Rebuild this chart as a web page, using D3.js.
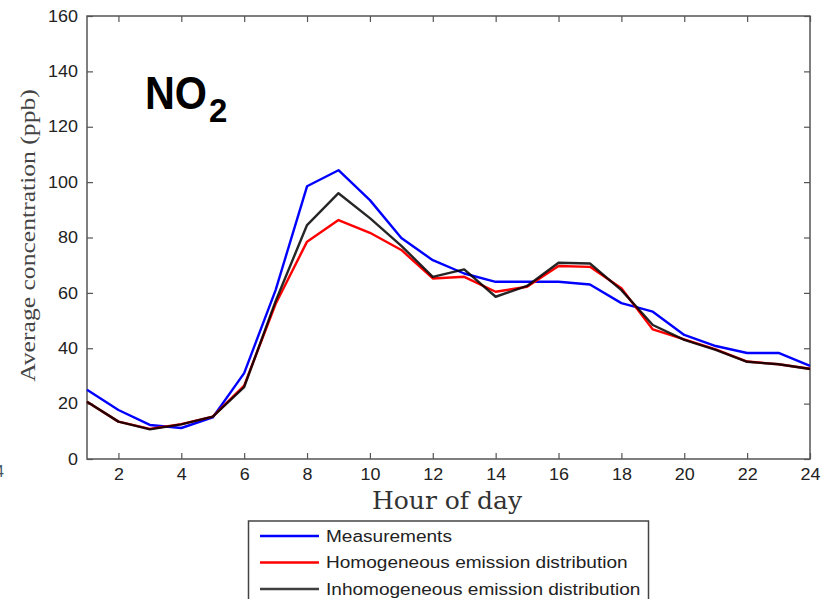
<!DOCTYPE html>
<html>
<head>
<meta charset="utf-8">
<script src="https://cdn.jsdelivr.net/npm/d3@7"></script>
<style>
  body { margin: 0; background: #fff; }
  svg { display: block; }
</style>
</head>
<body>
<div id="chart"></div>
<script>
//////////////////////////////////////////////////////////////
////////////////////// Data /////////////////////////////////
//////////////////////////////////////////////////////////////

var hours = d3.range(1, 25);
var measurements = [25, 17.7, 12.3, 11.2, 15, 31, 61, 98.5, 104.3, 93.5, 79.8, 71.8, 67, 64, 64, 64, 63, 56.3, 53.2, 44.8, 40.8, 38.3, 38.3, 33.6];
var homogeneous = [20.7, 13.5, 10.9, 12.6, 15.3, 26.5, 56, 78.5, 86.3, 81.7, 75.5, 65.2, 65.8, 60.4, 62.2, 69.7, 69.4, 61.7, 46.8, 43.2, 39.6, 35.2, 34.2, 32.6];
var inhomogeneous = [20.7, 13.5, 10.7, 12.5, 15.3, 26, 57, 84.5, 96, 87, 77, 65.8, 68.5, 58.6, 62.5, 70.9, 70.6, 61, 48.4, 43, 39.4, 35.1, 34.2, 32.5];
var seriesNames = ["Measurements", "Homogeneous emission distribution", "Inhomogeneous emission distribution"];
var seriesColors = ["#0000ff", "#ff0000", "#000000"];
var xTicks = d3.range(2, 25, 2);
var yTicks = d3.range(0, 161, 20);

//////////////////////////////////////////////////////////////
////////////////////// Setup ////////////////////////////////
//////////////////////////////////////////////////////////////

var width = 831, height = 599;
var plot = {left: 87, top: 16, right: 810, bottom: 459};

var svg = d3.select("#chart").append("svg")
	.attr("width", width)
	.attr("height", height);

var x = d3.scaleLinear().domain([1, 24]).range([plot.left, plot.right]);
var y = d3.scaleLinear().domain([0, 160]).range([plot.bottom, plot.top]);

var tickFont = "'Liberation Sans', Arial, Helvetica, sans-serif",
	serifFont = "'Liberation Serif', 'DejaVu Serif', serif";

//The original Helvetica texts are a bit wider than Liberation Sans, stretch them
function stretch(sel, factor) {
	sel.each(function() {
		var w = this.getComputedTextLength();
		d3.select(this)
			.attr("textLength", w * factor)
			.attr("lengthAdjust", "spacingAndGlyphs");
	});
}

//Axes - ticks point inward, mirrored on the top and right
var axisStyle = function(g) {
	g.select(".domain").remove();
	g.selectAll(".tick line").attr("stroke", "#555").attr("stroke-width", 1.2);
	g.selectAll(".tick text")
		.attr("fill", "#222")
		.style("font-family", tickFont)
		.style("font-size", "16px")
		.call(stretch, 1.12);
};

svg.append("g")
	.attr("transform", "translate(0," + plot.bottom + ")")
	.call(d3.axisBottom(x).tickValues(xTicks).tickSizeInner(-6).tickSizeOuter(0).tickPadding(10))
	.call(axisStyle);
svg.append("g")
	.attr("transform", "translate(0," + plot.top + ")")
	.call(d3.axisTop(x).tickValues(xTicks).tickSizeInner(-6).tickSizeOuter(0).tickFormat(""))
	.call(axisStyle);
svg.append("g")
	.attr("transform", "translate(" + plot.left + ",0)")
	.call(d3.axisLeft(y).tickValues(yTicks).tickSizeInner(-6).tickSizeOuter(0).tickPadding(9))
	.call(axisStyle);
svg.append("g")
	.attr("transform", "translate(" + plot.right + ",0)")
	.call(d3.axisRight(y).tickValues(yTicks).tickSizeInner(-6).tickSizeOuter(0).tickFormat(""))
	.call(axisStyle);

//Box around the plot
svg.append("rect")
	.attr("x", plot.left)
	.attr("y", plot.top)
	.attr("width", plot.right - plot.left)
	.attr("height", plot.bottom - plot.top)
	.attr("fill", "none")
	.attr("stroke", "#555")
	.attr("stroke-width", 1.5);

//////////////////////////////////////////////////////////////
////////////////////// Lines ////////////////////////////////
//////////////////////////////////////////////////////////////

var line = d3.line()
	.x(function(d, i) { return x(hours[i]); })
	.y(function(d) { return y(d); });

svg.selectAll(".series")
	.data([measurements, homogeneous, inhomogeneous])
	.enter().append("path")
	.attr("class", "series")
	.attr("d", line)
	.attr("fill", "none")
	.attr("stroke", function(d, i) { return seriesColors[i]; })
	.attr("stroke-width", 2.4)
	.attr("stroke-linejoin", "round")
	.attr("opacity", function(d, i) { return i === 2 ? 0.85 : 1; });

//////////////////////////////////////////////////////////////
////////////////////// Texts ////////////////////////////////
//////////////////////////////////////////////////////////////

//NO2 - two separate texts so the subscript sits right after the O
var titleX = 145, titleW = 62;
svg.append("text")
	.attr("x", titleX)
	.attr("y", 109)
	.style("font-family", tickFont)
	.style("font-weight", "bold")
	.style("font-size", "47px")
	.attr("fill", "#000")
	.attr("textLength", titleW)
	.attr("lengthAdjust", "spacingAndGlyphs")
	.text("NO");
svg.append("text")
	.attr("x", titleX + titleW + 2)
	.attr("y", 122)
	.style("font-family", tickFont)
	.style("font-weight", "bold")
	.style("font-size", "33px")
	.attr("fill", "#000")
	.text("2");

svg.append("text")
	.attr("transform", "translate(35," + ((plot.top + plot.bottom) / 2 - 2) + ") rotate(-90)")
	.style("text-anchor", "middle")
	.style("font-family", serifFont)
	.style("font-size", "21px")
	.attr("fill", "#444")
	.text("Average concentration (ppb)")
	.call(stretch, 1.22);

svg.append("text")
	.attr("x", 447)
	.attr("y", 509)
	.style("text-anchor", "middle")
	.style("font-family", "'DejaVu Serif', serif")
	.style("font-size", "25px")
	.attr("fill", "#333")
	.text("Hour of day");

//Cut off label of the neighbouring panel
svg.append("text")
	.attr("x", -5)
	.attr("y", 477)
	.style("font-family", tickFont)
	.style("font-size", "16px")
	.attr("fill", "#456")
	.text("4");

//////////////////////////////////////////////////////////////
////////////////////// Legend ///////////////////////////////
//////////////////////////////////////////////////////////////

svg.append("rect")
	.attr("x", 248.5)
	.attr("y", 521)
	.attr("width", 400)
	.attr("height", 90)
	.attr("fill", "#fff")
	.attr("stroke", "#444")
	.attr("stroke-width", 1.5);

var legend = svg.selectAll(".legendItem")
	.data(seriesNames)
	.enter().append("g")
	.attr("class", "legendItem")
	.attr("transform", function(d, i) { return "translate(260," + (536 + i * 26.5) + ")"; });

legend.append("line")
	.attr("x1", 0).attr("x2", 59)
	.attr("stroke", function(d, i) { return seriesColors[i]; })
	.attr("stroke-width", 2.4)
	.attr("opacity", function(d, i) { return i === 2 ? 0.75 : 1; });

legend.append("text")
	.attr("x", 66)
	.attr("dy", "0.35em")
	.style("font-family", tickFont)
	.style("font-size", "16px")
	.attr("fill", "#222")
	.text(function(d) { return d; })
	.call(stretch, 1.19);
</script>
</body>
</html>
